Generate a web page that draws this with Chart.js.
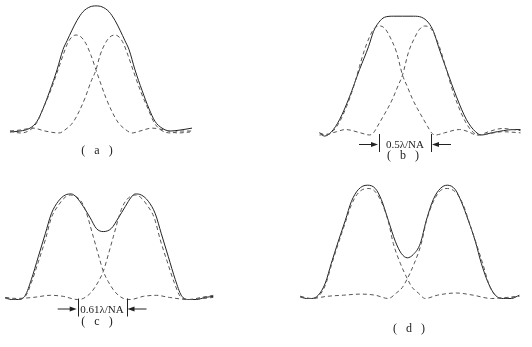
<!DOCTYPE html>
<html>
<head>
<meta charset="utf-8">
<script src="https://cdn.jsdelivr.net/npm/chart.js@4/dist/chart.umd.min.js"></script>
<style>
body{margin:0;background:#fff;width:532px;height:347px;position:relative;overflow:hidden}
canvas{position:absolute}
.lbl{position:absolute;font:12px "Liberation Serif";color:#222;transform:translate(-50%,-50%);white-space:pre}
.gap{font-size:11px}
</style>
</head>
<body>
<canvas id="pa" width="266" height="173" style="left:0;top:0"></canvas>
<canvas id="pb" width="266" height="173" style="left:266px;top:0"></canvas>
<canvas id="pc" width="266" height="174" style="left:0;top:173px"></canvas>
<canvas id="pd" width="266" height="174" style="left:266px;top:173px"></canvas>
<div class="lbl" id="la" style="left:97px;top:150px"></div>
<div class="lbl" id="lb" style="left:403px;top:155px"></div>
<div class="lbl" id="lc" style="left:97px;top:321px"></div>
<div class="lbl" id="ld" style="left:409px;top:328px"></div>
<div class="lbl gap" id="gb" style="left:405px;top:144px"></div>
<div class="lbl gap" id="gc" style="left:102px;top:309px"></div>
<script>
// position (offset from the middle of each pair), intensity (single spot peak = 1)
var aSum = [[-86,0.00],[-76,0.01],[-66,0.04],[-59,0.11],[-53,0.24],[-46,0.43],[-39,0.64],[-33,0.85],[-29,0.94],[-24,1.05],[-19,1.15],[-13,1.24],[-6,1.29],[0,1.30],
    [6,1.29],[13,1.24],[19,1.15],[24,1.05],[29,0.94],[33,0.85],[39,0.64],[46,0.43],[53,0.24],[59,0.11],[66,0.04],[74,0.01],[84,0.02],[96,0.04]];
var aLeft = [[-86,0.01],[-76,-0.01],[-66,0.02],[-59,0.10],[-53,0.24],[-46,0.41],[-39,0.61],[-33,0.79],[-29,0.90],[-25,0.97],[-20,1.00],[-15,0.98],[-10,0.91],[-5,0.79],[0,0.64],
    [4,0.52],[10,0.35],[16,0.21],[22,0.10],[29,0.03],[36,-0.01],[44,0.01],[56,0.04],[69,0.02],[82,-0.01],[94,0.00]];
var aRight = [[-86,0.01],[-76,0.02],[-63,0.04],[-51,0.01],[-37,-0.01],[-30,0.03],[-23,0.10],[-17,0.21],[-11,0.35],[-5,0.52],[0,0.64],
    [4,0.79],[9,0.91],[14,0.98],[19,1.00],[24,0.97],[28,0.90],[32,0.79],[38,0.61],[45,0.41],[52,0.24],[58,0.10],[65,0.02],[75,-0.01],[85,0.01],[96,0.01]];

var bSum = [[-83,0.02],[-78,-0.01],[-71,0.03],[-63,0.14],[-53,0.35],[-43,0.60],[-34,0.81],[-29,0.95],[-24,1.03],[-18,1.08],[-9,1.09],[0,1.09],
    [11,1.09],[19,1.08],[26,1.03],[31,0.95],[36,0.81],[44,0.60],[54,0.35],[64,0.14],[73,0.03],[79,0.00],[89,0.02],[101,0.04],[111,0.05],[118,0.05]];
var bLeft = [[-83,0.02],[-76,0.00],[-69,0.04],[-63,0.12],[-56,0.26],[-49,0.44],[-43,0.63],[-38,0.78],[-33,0.90],[-28,0.98],[-22,1.00],[-17,0.97],[-12,0.89],[-6,0.76],[0,0.55],
    [5,0.44],[10,0.33],[15,0.24],[20,0.16],[25,0.08],[29,0.02],[33,0.00],[42,0.02],[57,0.05],[66,0.03],[74,0.00],[85,0.01],[100,0.03],[118,0.02]];
var bRight = [[-83,0.00],[-74,0.01],[-66,0.03],[-57,0.05],[-42,0.02],[-33,0.00],[-29,0.02],[-25,0.08],[-20,0.16],[-15,0.24],[-10,0.33],[-5,0.44],[0,0.55],
    [6,0.76],[12,0.89],[17,0.97],[22,1.00],[28,0.98],[33,0.90],[38,0.78],[43,0.63],[49,0.44],[56,0.26],[63,0.12],[69,0.04],[76,0.00],[86,0.03],[100,0.06],[110,0.05],[118,0.04]];

var cSum = [[-98,0.02],[-92,0.00],[-85,0.00],[-78,0.04],[-72,0.19],[-65,0.41],[-58,0.63],[-52,0.82],[-45,0.94],[-38,1.00],[-32,1.01],[-27,0.98],[-20,0.89],[-13,0.78],[-7,0.68],[0,0.65],
    [8,0.68],[15,0.78],[22,0.89],[28,0.98],[32,1.01],[38,1.00],[45,0.94],[52,0.82],[58,0.63],[65,0.41],[72,0.19],[78,0.04],[85,0.00],[93,0.00],[102,0.02],[110,0.03]];
var cLeft = [[-98,0.01],[-87,0.00],[-78,0.03],[-72,0.16],[-65,0.36],[-58,0.57],[-52,0.78],[-45,0.90],[-38,0.98],[-33,1.00],[-23,0.95],[-18,0.86],[-10,0.60],[-5,0.43],[0,0.27],
    [5,0.17],[12,0.07],[20,0.01],[27,0.00],[40,0.03],[53,0.04],[66,0.02],[85,0.00],[100,0.01],[110,0.02]];
var cRight = [[-98,0.02],[-87,0.01],[-70,0.02],[-53,0.04],[-40,0.03],[-26,0.00],[-20,0.01],[-12,0.07],[-5,0.17],[0,0.27],
    [5,0.43],[10,0.60],[18,0.86],[23,0.95],[32,1.00],[37,0.98],[44,0.90],[51,0.78],[57,0.57],[64,0.36],[71,0.16],[77,0.03],[86,0.00],[98,0.02],[110,0.04]];

var dSum = [[-107,0.02],[-101,0.00],[-96,0.00],[-89,0.03],[-82,0.14],[-76,0.32],[-69,0.52],[-62,0.71],[-56,0.88],[-49,0.99],[-40,1.03],[-32,1.00],[-26,0.90],[-19,0.71],[-12,0.52],[-6,0.41],[0,0.37],
    [6,0.40],[13,0.50],[19,0.71],[26,0.90],[33,1.00],[40,1.03],[48,0.99],[54,0.88],[61,0.71],[68,0.52],[74,0.32],[81,0.14],[88,0.03],[96,0.00],[104,0.00],[112,0.03]];
var dLeft = [[-107,0.01],[-97,0.00],[-89,0.02],[-82,0.12],[-76,0.30],[-69,0.50],[-62,0.69],[-56,0.85],[-49,0.96],[-40,1.00],[-33,0.98],[-26,0.88],[-19,0.70],[-14,0.50],[-7,0.32],[0,0.18],
    [5,0.10],[11,0.05],[18,0.00],[30,0.03],[49,0.05],[66,0.03],[84,0.00],[100,0.01],[112,0.02]];
var dRight = [[-107,0.02],[-96,0.00],[-80,0.02],[-64,0.03],[-47,0.04],[-32,0.03],[-19,0.00],[-11,0.05],[-5,0.10],[0,0.18],
    [7,0.32],[14,0.50],[19,0.70],[26,0.88],[33,0.98],[40,1.00],[49,0.96],[56,0.85],[62,0.69],[69,0.50],[76,0.30],[82,0.12],[89,0.02],[97,0.00],[104,0.01],[112,0.02]];

// separation marks under (b) and (c)
var bMarks = [-23.5, 28.5];
var cMarks = [-25.6, 23.2];
var bGapText = '0.5λ/NA';
var cGapText = '0.61λ/NA';
var panelLetters = ['a', 'b', 'c', 'd'];

document.getElementById('gb').textContent = bGapText;
document.getElementById('gc').textContent = cGapText;
['la', 'lb', 'lc', 'ld'].forEach(function (id, i) {
    document.getElementById(id).textContent = '(\u2002 ' + panelLetters[i] + ' \u2002)';
});

function pts(arr) {
    return arr.map(function (p) { return { x: p[0], y: p[1] }; });
}

var markPlugin = {
    id: 'marks',
    afterDatasetsDraw: function (chart) {
        var marks = chart.options.plugins.marks.at;
        if (!marks) return;
        var ctx = chart.ctx;
        var base = chart.scales.y.getPixelForValue(0);
        var x1 = chart.scales.x.getPixelForValue(marks[0]);
        var x2 = chart.scales.x.getPixelForValue(marks[1]);
        var ay = base + 9.5;
        ctx.save();
        ctx.strokeStyle = '#222';
        ctx.fillStyle = '#222';
        ctx.lineWidth = 1;
        ctx.beginPath();
        ctx.moveTo(Math.round(x1) + 0.5, base - 1);
        ctx.lineTo(Math.round(x1) + 0.5, base + 17);
        ctx.moveTo(Math.round(x2) + 0.5, base - 1);
        ctx.lineTo(Math.round(x2) + 0.5, base + 17);
        ctx.moveTo(x1 - 20, ay);
        ctx.lineTo(x1 - 5, ay);
        ctx.moveTo(x2 + 20, ay);
        ctx.lineTo(x2 + 5, ay);
        ctx.stroke();
        ctx.beginPath();
        ctx.moveTo(x1 - 1, ay);
        ctx.lineTo(x1 - 8, ay - 2.5);
        ctx.lineTo(x1 - 8, ay + 2.5);
        ctx.closePath();
        ctx.moveTo(x2 + 1, ay);
        ctx.lineTo(x2 + 8, ay - 2.5);
        ctx.lineTo(x2 + 8, ay + 2.5);
        ctx.closePath();
        ctx.fill();
        ctx.restore();
    }
};

// canvas placement: left/top of canvas, middle of pair (cx), baseline and unit height in page pixels
var panels = [
    { id: 'pa', left: 0, top: 0, w: 266, h: 173, cx: 96, base: 132, unit: 97, sum: aSum, l: aLeft, r: aRight, marks: null },
    { id: 'pb', left: 266, top: 0, w: 266, h: 173, cx: 402.5, base: 135, unit: 109, sum: bSum, l: bLeft, r: bRight, marks: bMarks },
    { id: 'pc', left: 0, top: 173, w: 266, h: 174, cx: 103.3, base: 299.5, unit: 104.5, sum: cSum, l: cLeft, r: cRight, marks: cMarks },
    { id: 'pd', left: 266, top: 173, w: 266, h: 174, cx: 407.3, base: 298.5, unit: 110, sum: dSum, l: dLeft, r: dRight, marks: null }
];

panels.forEach(function (p) {
    var dashed = { borderColor: '#555', borderWidth: 1, borderDash: [4, 3], pointRadius: 0, fill: false, cubicInterpolationMode: 'monotone' };
    new Chart(document.getElementById(p.id), {
        type: 'line',
        data: {
            datasets: [
                Object.assign({ data: pts(p.l) }, dashed),
                Object.assign({ data: pts(p.r) }, dashed),
                { data: pts(p.sum), borderColor: '#222', borderWidth: 1, pointRadius: 0, fill: false, cubicInterpolationMode: 'monotone' }
            ]
        },
        options: {
            responsive: false,
            animation: false,
            devicePixelRatio: 1,
            layout: { padding: 0 },
            scales: {
                x: { type: 'linear', display: false, min: p.left - p.cx, max: p.left + p.w - p.cx },
                y: { display: false, min: (p.base - p.top - p.h) / p.unit, max: (p.base - p.top) / p.unit }
            },
            plugins: { legend: { display: false }, tooltip: { enabled: false }, marks: { at: p.marks } }
        },
        plugins: [markPlugin]
    });
});
</script>
</body>
</html>
